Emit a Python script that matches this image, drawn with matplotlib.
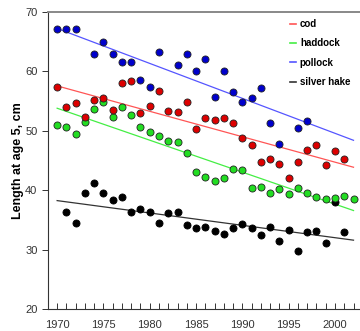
import numpy as np
import matplotlib
matplotlib.use("Agg")
import matplotlib.pyplot as plt

plt.rcParams["font.family"] = ["Liberation Sans", "DejaVu Sans"]

pollock_years = [1970, 1971, 1972, 1974, 1975, 1976, 1977, 1978, 1979, 1980, 1981, 1983, 1984,
                 1985, 1986, 1987, 1988, 1989, 1990, 1991, 1992, 1993, 1994, 1996, 1997]
pollock = [67.1, 67.1, 67.1, 62.9, 65.0, 62.9, 61.6, 61.6, 58.6, 57.3, 63.2, 61.1, 62.9,
           60.0, 62.1, 55.7, 60.1, 56.6, 54.9, 55.6, 57.2, 51.3, 47.7, 50.5, 51.6]

cod_years = list(range(1970, 2002))
cod = [57.3, 54.0, 54.6, 52.4, 55.2, 55.5, 53.5, 58.1, 58.3, 53.0, 54.2, 56.7, 53.3, 53.2,
       54.8, 50.3, 52.1, 51.8, 52.2, 51.3, 48.8, 47.6, 44.7, 45.2, 44.4, 42.0, 44.7, 46.8,
       47.6, 44.2, 46.6, 45.3]

haddock_years = list(range(1970, 2003))
haddock = [50.9, 50.6, 49.4, 51.5, 53.6, 54.8, 52.4, 54.0, 52.6, 50.7, 49.8, 49.2, 48.3,
           48.2, 46.3, 43.0, 42.2, 41.5, 42.0, 43.6, 43.4, 40.3, 40.5, 39.6, 40.2, 39.4,
           40.3, 39.5, 38.8, 38.6, 38.7, 39.0, 38.5]

hake_years = list(range(1971, 2002))
hake = [36.3, 34.5, 39.5, 41.2, 39.5, 38.3, 38.8, 36.3, 36.8, 36.3, 34.5, 36.1, 36.4, 34.2,
        33.6, 33.9, 33.2, 32.6, 33.6, 34.3, 33.7, 32.4, 33.9, 31.5, 33.3, 29.8, 33.0, 33.2,
        31.2, 38.0, 33.0]

species = ["cod", "haddock", "pollock", "silver hake"]
point_colors = {"cod": "#dd0000", "haddock": "#22dd22", "pollock": "#0000cc", "silver hake": "#000000"}
line_colors = {"cod": "#ff5555", "haddock": "#44ee44", "pollock": "#5555ff", "silver hake": "#333333"}
series = {"cod": (cod_years, cod), "haddock": (haddock_years, haddock),
          "pollock": (pollock_years, pollock), "silver hake": (hake_years, hake)}

fig = plt.figure(figsize=(3.6, 3.31), dpi=100)
ax = fig.add_axes([0.133, 0.066, 0.867, 0.898])

# points plus a least-squares trend line per species
trend_x = np.array([1970, 2002])
for name in ["silver hake", "haddock", "cod", "pollock"]:
    yrs, vals = series[name]
    edge = "#222222" if name != "silver hake" else "#000000"
    ax.scatter(yrs, vals, s=26, color=point_colors[name], edgecolors=edge,
               linewidths=0.6, zorder=3)
    slope, icpt = np.polyfit(yrs, vals, 1)
    ax.plot(trend_x, slope * trend_x + icpt, color=line_colors[name], lw=0.9, zorder=2)

handles = [plt.Line2D([], [], color=line_colors[n], lw=1.2) for n in species]
ax.legend(handles, species, loc="upper left", bbox_to_anchor=(0.77, 0.982),
          frameon=False, handlelength=0.6, handletextpad=0.4, labelspacing=0.95,
          borderpad=0.2, borderaxespad=0.0, prop={"size": 7, "weight": "bold"})

ax.set_xlim(1969, 2002.7)
ax.set_ylim(20, 70)
ax.set_xticks(range(1970, 2001, 5))
ax.set_xticks(range(1970, 2003), minor=True)
ax.set_yticks(range(20, 71, 10))
ax.tick_params(axis="x", which="both", direction="in", length=4, width=0.7,
               labelsize=8, colors="#333333", pad=8)
ax.tick_params(axis="y", direction="out", length=4, width=0.7, labelsize=8,
               colors="#333333")
ax.set_ylabel("Length at age 5, cm", fontsize=9, fontweight="bold", labelpad=1)

ax.spines["right"].set_visible(False)
ax.spines["top"].set_color("#888888")
ax.spines["top"].set_linewidth(1.4)
for s in ["left", "bottom"]:
    ax.spines[s].set_color("#333333")
    ax.spines[s].set_linewidth(0.8)

fig.savefig("out.png", dpi=100)
